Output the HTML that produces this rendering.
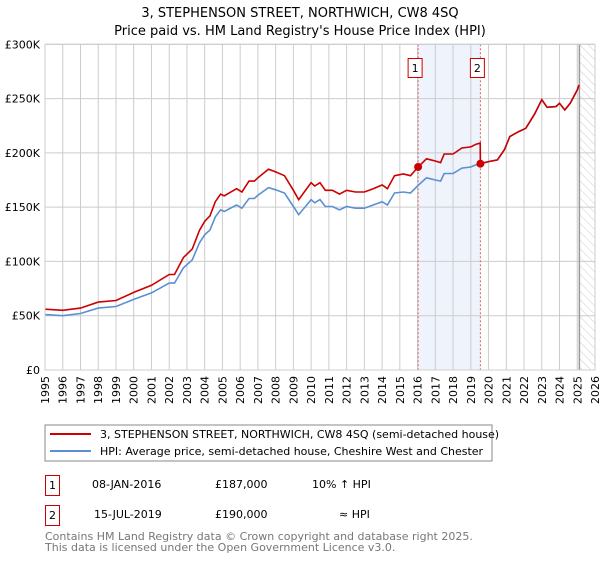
<!DOCTYPE html>
<html><head><meta charset="utf-8"><style>
body{margin:0;background:#fff;font-family:"Liberation Sans","DejaVu Sans",sans-serif;}
svg text{font-family:"DejaVu Sans","Liberation Sans",sans-serif;}
</style></head><body>
<svg id="c" width="600" height="560" viewBox="0 0 600 560">
<defs><pattern id="hatch" width="6" height="6" patternUnits="userSpaceOnUse" patternTransform="rotate(-45)"><line x1="0" y1="0" x2="0" y2="6" stroke="#ccc" stroke-width="1"/></pattern></defs>
<text x="300" y="17" text-anchor="middle" font-size="13" fill="#000">3, STEPHENSON STREET, NORTHWICH, CW8 4SQ</text>
<text x="300" y="35" text-anchor="middle" font-size="13" fill="#000">Price paid vs. HM Land Registry's House Price Index (HPI)</text>
<g id="grid"></g>
<g id="marks"></g>
<g id="axes"></g>
<rect x="45" y="425" width="447" height="36" fill="#fff" stroke="#888"/>
<line x1="50" y1="434" x2="91" y2="434" stroke="#cc0000" stroke-width="2"/>
<text x="100" y="438" font-size="11">3, STEPHENSON STREET, NORTHWICH, CW8 4SQ (semi-detached house)</text>
<line x1="50" y1="451" x2="91" y2="451" stroke="#5b8fd4" stroke-width="2"/>
<text x="100" y="455" font-size="11">HPI: Average price, semi-detached house, Cheshire West and Chester</text>
<g>
<rect x="45.5" y="475.5" width="14" height="20" fill="#fff" stroke="#cc0000"/><text x="52.5" y="489" text-anchor="middle" font-size="11">1</text>
<text x="92" y="488" font-size="11">08-JAN-2016</text><text x="215" y="488" font-size="11">£187,000</text><text x="312" y="488" font-size="11">10% ↑ HPI</text></g>
<g>
<rect x="45.5" y="505.5" width="14" height="20" fill="#fff" stroke="#cc0000"/><text x="52.5" y="519" text-anchor="middle" font-size="11">2</text>
<text x="94" y="518" font-size="11">15-JUL-2019</text><text x="215" y="518" font-size="11">£190,000</text><text x="339" y="518" font-size="11">≈ HPI</text></g>
<text x="45" y="540" font-size="11" fill="#777">Contains HM Land Registry data © Crown copyright and database right 2025.</text>
<text x="45" y="551" font-size="11" fill="#777">This data is licensed under the Open Government Licence v3.0.</text>
</svg>
<script>
const dates=[1995,1996,1997,1998,1999,2000,2001,2002,2002.3,2002.8,2003.3,2003.7,2004,2004.3,2004.6,2004.9,2005.1,2005.8,2006.1,2006.5,2006.8,2007,2007.6,2008,2008.5,2009,2009.3,2010,2010.2,2010.5,2010.8,2011.2,2011.6,2012,2012.5,2013,2013.5,2014,2014.3,2014.7,2015.2,2015.6,2016.03,2016.5,2017,2017.3,2017.5,2018,2018.5,2019,2019.3,2019.53,2019.54,2020,2020.5,2020.9,2021.2,2021.7,2022.1,2022.6,2023,2023.3,2023.8,2024,2024.3,2024.6,2025,2025.1];
const hpiValues=[51,50,52,57,58.5,65,71,80,80,94,101.5,117,124.5,129,141,147.5,146,152,149,158,158,161,168,166,163,150.6,143,157,154,157,150.6,150.6,147.5,150.6,149,149,152,155,152,163,164,163,170,177,175,174,181,181,186,187,189,190,190,192,193.5,203,215,219.6,222.6,236,249,242,242.6,245.7,239.5,245.7,258,262.5];
const priceValues=[56,55,57,62.5,64,71.5,78,88,88,103.5,111.5,128.5,137,142,155,162,160.5,167,164,174,174,177,185,182.5,179,165.5,157,172.5,169.5,172.5,165.5,165.5,162,165.5,164,164,167,170.5,167,179,180.5,179,187,194.5,192.5,191,199,199,204.5,205.5,208,209,190,192,193.5,203,215,219.6,222.6,236,249,242,242.6,245.7,239.5,245.7,258,262.5];
const saleDates=[2016.03,2019.54];
const saleValues=[187,190];
const saleLabels=["1","2"];
const yTicks=[0,50,100,150,200,250,300];
const yTickLabels=["£0","£50K","£100K","£150K","£200K","£250K","£300K"];
const xTicks=[1995,1996,1997,1998,1999,2000,2001,2002,2003,2004,2005,2006,2007,2008,2009,2010,2011,2012,2013,2014,2015,2016,2017,2018,2019,2020,2021,2022,2023,2024,2025,2026];
const forecastStart=2025.12;
const X0=45,X1=595,Y0=370,Y1=44.3;
const xs=t=>X0+(t-1995)/(2026-1995)*(X1-X0);
const ys=v=>Y0-v/300*(Y0-Y1);
const NS="http://www.w3.org/2000/svg";
function mk(tag,attrs,parent,txt){const e=document.createElementNS(NS,tag);for(const k in attrs)e.setAttribute(k,attrs[k]);if(txt!==undefined)e.textContent=txt;parent.appendChild(e);return e;}
const grid=document.getElementById('grid'),marks=document.getElementById('marks'),axes=document.getElementById('axes');
const shade=mk('rect',{x:xs(saleDates[0]),y:Y1,width:xs(saleDates[1])-xs(saleDates[0]),height:Y0-Y1,fill:'#eef3fc'},grid);


const hatch=mk('rect',{x:xs(forecastStart),y:Y1,width:X1-xs(forecastStart),height:Y0-Y1,fill:'url(#hatch)'},grid);


xTicks.forEach(t=>{const l=mk('line',{x1:xs(t),x2:xs(t),y1:Y1,y2:Y0,stroke:'#cccccc'},grid);


const tx=mk('text',{x:0,y:0,'font-size':11,'text-anchor':'end',transform:`translate(${xs(t)+4},${Y0+6}) rotate(-90)`},axes,String(t));

});
yTicks.forEach((v,i)=>{const l=mk('line',{x1:X0,x2:X1,y1:ys(v),y2:ys(v),stroke:'#cccccc'},grid);


const tx=mk('text',{x:40,y:ys(v)+4,'font-size':11,'text-anchor':'end'},axes,yTickLabels[i]);

});
const fl=mk('line',{x1:xs(forecastStart),x2:xs(forecastStart),y1:Y1,y2:Y0,stroke:'#999','stroke-width':1.5},grid);


saleDates.forEach((d,i)=>{const l=mk('line',{x1:xs(d),x2:xs(d),y1:Y1,y2:Y0,stroke:'#e06060','stroke-dasharray':'2,2'},grid);


const g=mk('g',{},axes);


mk('rect',{x:xs(d)-10,y:58.5,width:14,height:19,fill:'#fff',stroke:'#cc0000'},g);
mk('text',{x:xs(d)-3,y:72,'font-size':11,'text-anchor':'middle'},g,saleLabels[i]);});
const pts=a=>a.map((v,i)=>xs(dates[i]).toFixed(1)+','+ys(v).toFixed(1)).join(' ');
const hl=mk('polyline',{points:pts(hpiValues),fill:'none',stroke:'#5b8fd4','stroke-width':1.6},marks);


const pl=mk('polyline',{points:pts(priceValues),fill:'none',stroke:'#cc0000','stroke-width':1.6},marks);


saleDates.forEach((d,i)=>{const c=mk('circle',{cx:xs(d),cy:ys(saleValues[i]),r:4,fill:'#cc0000'},marks);

});
const b=mk('rect',{x:X0,y:Y1,width:X1-X0,height:Y0-Y1,fill:'none',stroke:'#cccccc'},axes);


</script>
</body></html>
